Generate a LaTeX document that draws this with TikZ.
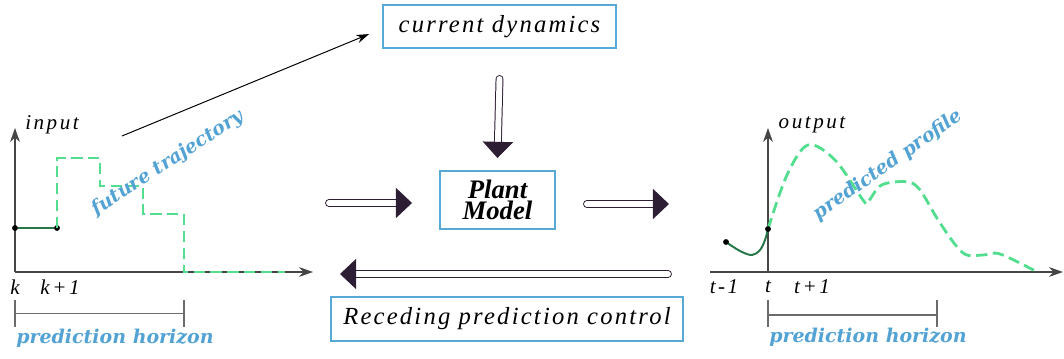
\documentclass[tikz,border=0pt]{standalone}
\usepackage{fontspec}
\setmainfont{Liberation Serif}
\newfontfamily\spacedfont[LetterSpace=9]{Liberation Serif}
\newfontfamily\axisfont[LetterSpace=12]{Liberation Serif}
\newfontfamily\notefont{DejaVu Serif}
\usepackage{tikz}
\usetikzlibrary{arrows.meta,positioning,calc}
\usepackage{xcolor}
\definecolor{boxblue}{RGB}{88,170,214}
\definecolor{noteblue}{RGB}{82,162,212}
\definecolor{dashgreen}{RGB}{82,222,142}
\definecolor{solidgreen}{RGB}{38,118,72}
\definecolor{arrowdark}{RGB}{45,30,52}
\definecolor{axisgray}{RGB}{70,70,70}

\tikzset{
    box/.style={draw=boxblue, line width=1.4pt, inner sep=2pt},
    boxtext/.style={font=\spacedfont\itshape\fontsize{17.5}{20}\selectfont},
    axislabel/.style={font=\axisfont\itshape\fontsize{15}{17}\selectfont, inner sep=1pt},
    note/.style={font=\notefont\bfseries\itshape\fontsize{13.5}{15}\selectfont, text=noteblue, inner sep=1pt},
    axis/.style={draw=axisgray, line width=0.85pt, -{Stealth[length=10pt, width=7pt]}},
    horizon/.style={draw=axisgray!80, line width=0.8pt},
    hollow/.style={draw=arrowdark, line width=0.7pt, double=white, double distance=4.2pt, line cap=round, -{Triangle[length=11.5pt, width=21.5pt]}},
    future/.style={draw=dashgreen, line width=2pt, dash pattern=on 8pt off 4pt},
    past/.style={draw=solidgreen, line width=1.4pt},
    sample/.style={fill=black, circle, inner sep=0pt, minimum size=4.2pt}
}

\begin{document}
\begin{tikzpicture}
    \useasboundingbox (0,0) rectangle (26.6,8.975);

    % Boxes
    \node[box, boxtext, minimum width=5.825cm, minimum height=1.075cm] (dyn) at (12.4875,8.3125) {current dynamics};
    \node[box, minimum width=2.875cm, minimum height=1.45cm, align=center, font=\fontsize{19}{15.4}\selectfont\bfseries\itshape] (plant) at (12.4375,3.975) {Plant\\Model};
    \node[box, boxtext, minimum width=8.8cm, minimum height=1.1cm] (rpc) at (12.675,1.0) {Receding prediction control};

    % Hollow arrows
    \draw[hollow] ([yshift=-0.75cm]dyn.south) -- ([yshift=0.3cm]plant.north);
    \draw[hollow] ([xshift=-2.75cm,yshift=-0.075cm]plant.west) -- ([xshift=-0.675cm,yshift=-0.075cm]plant.west);
    \draw[hollow] ([xshift=0.775cm,yshift=-0.1cm]plant.east) -- ([xshift=2.825cm,yshift=-0.1cm]plant.east);
    \coordinate (fbTail) at (16.7,2.125);
    \coordinate (fbTip) at (8.5,2.125);
    \draw[hollow] (fbTail) -- (fbTip);

    % Input plot
    \coordinate (uO) at (0.375,2.175);
    \coordinate (uTop) at (0.375,5.775);
    \coordinate (uEnd) at (7.825,2.175);
    \draw[axis] (uO) -- (uTop);
    \draw[axis] (uO) -- (uEnd);
    \node[axislabel] (inLbl) at (1.3,5.85) {input};
    \node[axislabel] (kLbl) at (0.375,1.8) {k};
    \node[axislabel] (k1Lbl) at (1.5,1.8) {k+1};
    \node[sample] (u0) at (0.375,3.275) {};
    \node[sample] (u1) at (1.425,3.275) {};
    \draw[past] (u0) -- (u1);
    \draw[future] (u1.center) -- (1.425,5.025) -- (2.5,5.025) -- (2.5,4.325) -- (3.575,4.325)
        -- (3.575,3.625) -- (4.6,3.625) -- (4.6,2.175) -- (7.125,2.175);
    \node[note, rotate=33] (trajLbl) at (4.2,4.9) {future trajectory};
    \coordinate (trajStart) at (3.05,5.575);
    \draw[line width=0.7pt, -{Stealth[length=9pt, width=6pt]}] (trajStart) -- ([xshift=-0.325cm,yshift=-0.19cm]dyn.west);

    % Input horizon
    \draw[horizon] (0.375,1.475) -- (0.375,0.8) (0.375,1.14) -- (4.6,1.14) (4.6,1.475) -- (4.6,0.8);
    \node[note] (uHor) at (2.875,0.525) {prediction horizon};

    % Output plot
    \coordinate (yO) at (19.2,2.175);
    \coordinate (yTop) at (19.2,5.775);
    \coordinate (yStart) at (17.75,2.175);
    \coordinate (yEnd) at (26.575,2.175);
    \draw[axis] (yO) -- (yTop);
    \draw[axis] (yStart) -- (yEnd);
    \node[axislabel] (outLbl) at (20.3,5.85) {output};
    \node[axislabel] (t0Lbl) at (18.1,1.8) {t-1};
    \node[axislabel] (tLbl) at (19.2,1.8) {t};
    \node[axislabel] (t1Lbl) at (20.3,1.8) {t+1};
    \draw[future] plot[smooth, tension=0.55] coordinates {(19.2,3.25) (19.675,4.6) (20.2,5.35) (20.875,4.975)
        (21.575,3.975) (21.7,3.93) (22.04,4.35) (22.67,4.43) (23.0,4.225) (23.5,3.4) (24.075,2.65)
        (24.575,2.6) (25.0,2.625) (25.92,2.18)};
    \draw[past] plot[smooth, tension=0.6] coordinates {(18.15,2.925) (18.5,2.7) (18.8,2.6) (19.0,2.725) (19.125,2.975) (19.2,3.25)};
    \node[sample] (y0) at (18.15,2.925) {};
    \node[sample] (y1) at (19.2,3.25) {};
    \node[note, rotate=35] (profLbl) at (22.2,4.85) {predicted profile};

    % Output horizon
    \draw[horizon] (19.2,1.475) -- (19.2,0.8) (19.2,1.1) -- (23.425,1.1) (23.425,1.475) -- (23.425,0.8);
    \node[note] (yHor) at (21.7,0.55) {prediction horizon};
\end{tikzpicture}
\end{document}
